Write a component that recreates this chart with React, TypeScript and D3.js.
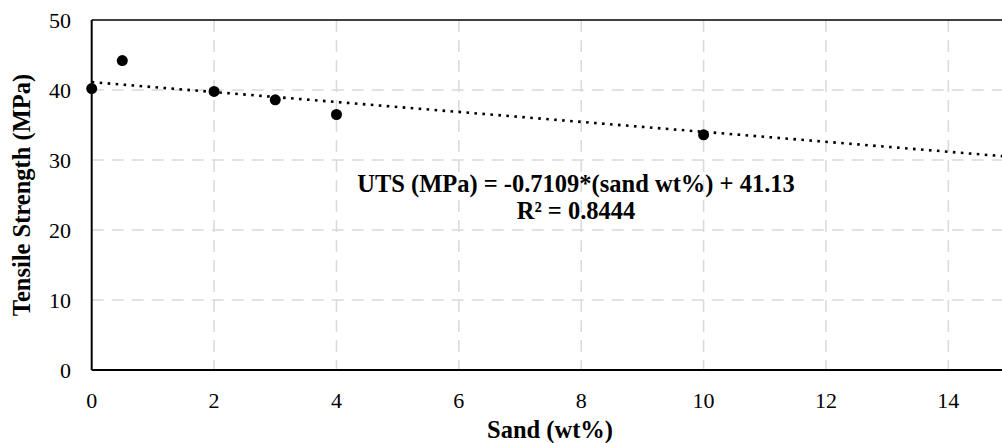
import React, { useEffect } from "react";
import * as d3 from "d3";

// Measured tensile strength vs. sand content
const sandWt = [0, 0.5, 2, 3, 4, 10];
const uts = [40.2, 44.2, 39.8, 38.6, 36.5, 33.6];

// Linear fit reported on the chart
const fitSlope = -0.7109;
const fitIntercept = 41.13;
const fitR2 = 0.8444;

const xTicks = [0, 2, 4, 6, 8, 10, 12, 14];
const yTicks = [0, 10, 20, 30, 40, 50];

const W = 1002;
const H = 443;
const left = 91.7;
const top = 20;
const bottom = 370;
const font = "Liberation Serif";

export default function App() {
  useEffect(() => {
    document.body.style.margin = "0";
  }, []);

  const x = d3.scaleLinear().domain([0, 16]).range([left, left + 16 * 61.19]);
  const y = d3.scaleLinear().domain([0, 50]).range([bottom, top]);
  const right = x(16);

  const fitLine = d3
    .line<number>()
    .x((d) => x(d))
    .y((d) => y(fitIntercept + fitSlope * d));

  const tick: React.CSSProperties = { fontFamily: font, fontSize: 22, fill: "#000" };
  const bold: React.CSSProperties = { fontFamily: font, fontSize: 24.5, fontWeight: "bold", fill: "#000" };

  return (
    <svg width={W} height={H} style={{ display: "block", background: "#fff" }}>
      {/* grid */}
      {xTicks
        .filter((t) => t > 0)
        .map((t) => (
          <line
            key={"gx" + t}
            x1={x(t)}
            x2={x(t)}
            y1={top}
            y2={bottom}
            stroke="#d9d9d9"
            strokeWidth={1.5}
            strokeDasharray="12 8"
          />
        ))}
      {yTicks
        .filter((t) => t > 0 && t < 50)
        .map((t) => (
          <line
            key={"gy" + t}
            x1={left}
            x2={right}
            y1={y(t)}
            y2={y(t)}
            stroke="#d9d9d9"
            strokeWidth={1.5}
            strokeDasharray="12 8"
          />
        ))}
      {/* frame */}
      <line x1={left} x2={right} y1={top} y2={top} stroke="#000" strokeWidth={1.5} />
      <line x1={left} x2={left} y1={top} y2={bottom} stroke="#000" strokeWidth={2} />
      <line x1={left} x2={right} y1={bottom} y2={bottom} stroke="#000" strokeWidth={2} />

      {/* trend line */}
      <path
        d={fitLine([0, 16]) || ""}
        fill="none"
        stroke="#000"
        strokeWidth={2.6}
        strokeDasharray="2.6 5.4"
      />

      {/* points */}
      {sandWt.map((s, i) => (
        <circle key={i} cx={x(s)} cy={y(uts[i])} r={5.5} fill="#000" />
      ))}

      {/* tick labels */}
      {yTicks.map((t) => (
        <text key={"ty" + t} x={71} y={y(t)} dy="0.35em" textAnchor="end" style={tick}>
          {t}
        </text>
      ))}
      {xTicks.map((t) => (
        <text key={"tx" + t} x={x(t)} y={400} dy="0.35em" textAnchor="middle" style={tick}>
          {t}
        </text>
      ))}

      {/* axis titles */}
      <text x={550} y={438} textAnchor="middle" style={bold}>
        Sand (wt%)
      </text>
      <text transform="translate(30,195) rotate(-90)" textAnchor="middle" style={bold}>
        Tensile Strength (MPa)
      </text>

      {/* equation */}
      <text x={576} y={192} textAnchor="middle" style={bold}>
        {`UTS (MPa) = ${fitSlope}*(sand wt%) + ${fitIntercept}`}
      </text>
      <text x={576} y={219} textAnchor="middle" style={bold}>
        {`R² = ${fitR2}`}
      </text>
    </svg>
  );
}
